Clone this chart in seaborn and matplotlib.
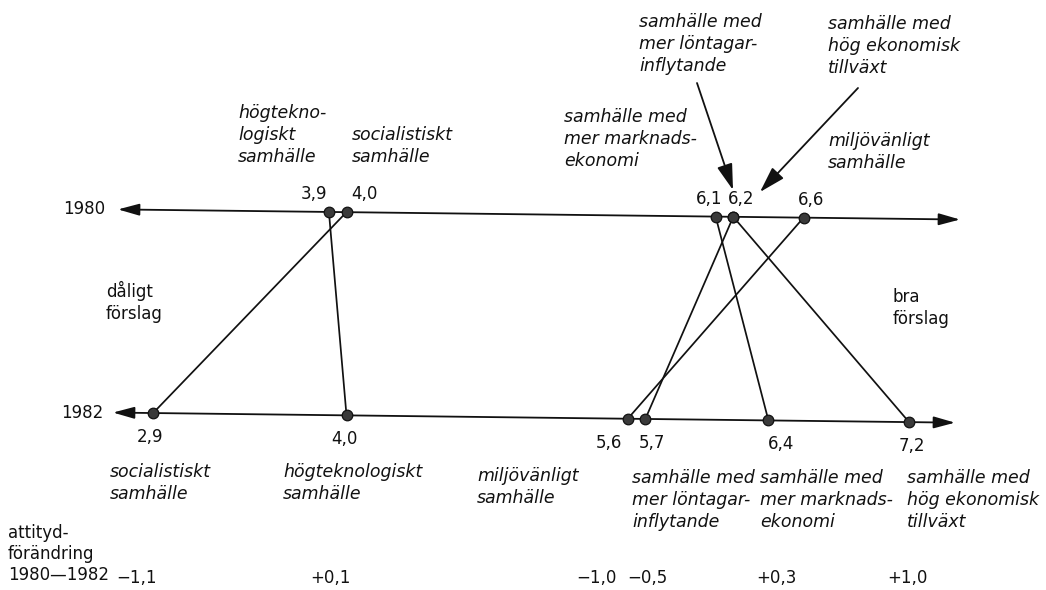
import numpy as np
import pandas as pd
import matplotlib
matplotlib.use("Agg")
import matplotlib.pyplot as plt
import seaborn as sns
from matplotlib.patches import ArrowStyle

# ---------------- data ----------------
societies = ["socialistiskt", "högteknologiskt", "miljövänligt",
             "löntagarinflytande", "marknadsekonomi", "tillväxt"]
score_1980 = [4.0, 3.9, 6.6, 6.2, 6.1, 6.2]
score_1982 = [2.9, 4.0, 5.6, 5.7, 6.4, 7.2]
change_80_82 = [-1.1, 0.1, -1.0, -0.5, 0.3, 1.0]
names_1982 = ["socialistiskt\nsamhälle", "högteknologiskt\nsamhälle",
              "miljövänligt\nsamhälle", "samhälle med\nmer löntagar-\ninflytande",
              "samhälle med\nmer marknads-\nekonomi", "samhälle med\nhög ekonomisk\ntillväxt"]
year_labels = ["1980", "1982"]

# ---------------- layout (pixels) ----------------
W, H = 1046, 590
PX_PER_UNIT = 175.8
X0 = -356.7
TILT = 0.012
ROW_BASE = {"1980": 208.0, "1982": 411.2}


def px(v):
    return X0 + PX_PER_UNIT * v


def v_of(p):
    return (p - X0) / PX_PER_UNIT


def row_y(v, year):
    return ROW_BASE[year] + TILT * px(v)


def row_y_px(p, year):
    return ROW_BASE[year] + TILT * p


sns.set_theme(style="white")
plt.rcParams["font.family"] = ["DejaVu Sans"]
INK = "#111111"

fig = plt.figure(figsize=(W / 100, H / 100), dpi=100)
ax = fig.add_axes([0, 0, 1, 1])
ax.set_xlim(v_of(0), v_of(W))
ax.set_ylim(H, 0)
ax.axis("off")

FS = 12
FS_IT = 12.5
LS_IT = 1.27
LS = 1.27

# axis lines with arrowheads
astyle = ArrowStyle("<|-|>", head_length=0.65, head_width=0.18)
for year, (lp, rp) in zip(year_labels, [(118, 960), (113, 955)]):
    ax.annotate("", xy=(v_of(rp), row_y_px(rp, year)), xytext=(v_of(lp), row_y_px(lp, year)),
                arrowprops=dict(arrowstyle=astyle, mutation_scale=20, color=INK, lw=1.3,
                                shrinkA=0, shrinkB=0))

# connectors
rows = []
for s, a, b in zip(societies, score_1980, score_1982):
    rows.append({"society": s, "x": a, "y": row_y(a, "1980"), "order": 0})
    rows.append({"society": s, "x": b, "y": row_y(b, "1982"), "order": 1})
df = pd.DataFrame(rows)
sns.lineplot(data=df, x="x", y="y", units="society", estimator=None, sort=False,
             color=INK, lw=1.25, legend=False, ax=ax)
sns.scatterplot(data=df, x="x", y="y", s=58, color="#3a3a3a", edgecolor=INK,
                linewidth=0.9, zorder=5, legend=False, ax=ax)
ax.set_xlabel("")
ax.set_ylabel("")


def fmt(v):
    return f"{v:.1f}".replace(".", ",")


def fmt_change(c):
    sign = "+" if c > 0 else "\u2212"
    return sign + f"{abs(c):.1f}".replace(".", ",")


# 1980 value labels: (value, pixel offset, ha)
lab80 = {3.9: (-2, "right"), 4.0: (5, "left"), 6.1: (7, "right"), 6.2: (-5, "left"), 6.6: (7, "center")}
for v in sorted(set(score_1980)):
    off, ha = lab80[v]
    ax.text(v_of(px(v) + off), row_y(v, "1980") - 18, fmt(v), ha=ha, va="center",
            fontsize=FS, color=INK)

# 1982 value labels
lab82 = [-3, -2, -19, 7, 13, 3]
for v, off in zip(score_1982, lab82):
    ax.text(v_of(px(v) + off), row_y(v, "1982") + 24, fmt(v), ha="center", va="center",
            fontsize=FS, color=INK)

# 1982 italic names
name_x = [110, 283, 477, 632, 760, 907]
name_y = [472, 472, 476, 478, 478, 478]
for n, x, y in zip(names_1982, name_x, name_y):
    ax.text(v_of(x), y - 9, n, ha="left", va="top", fontsize=FS_IT, style="italic",
            color=INK, linespacing=LS_IT)

# change values
chg_x = [137, 330, 596, 647, 776, 907]
for c, x in zip(change_80_82, chg_x):
    ax.text(v_of(x), 578, fmt_change(c), ha="center", va="center", fontsize=FS, color=INK)

ax.text(v_of(8), 533 - 9, "attityd-\nförändring\n1980\u20141982", ha="left", va="top",
        fontsize=FS, color=INK, linespacing=1.2)

# 1980 italic names (top)
top_names = [("högtekno-\nlogiskt\nsamhälle", 238, 113),
             ("socialistiskt\nsamhälle", 352, 135),
             ("samhälle med\nmer marknads-\nekonomi", 564, 117),
             ("samhälle med\nmer löntagar-\ninflytande", 639, 22),
             ("samhälle med\nhög ekonomisk\ntillväxt", 828, 24),
             ("miljövänligt\nsamhälle", 828, 141)]
for n, x, y in top_names:
    ax.text(v_of(x), y - 9, n, ha="left", va="top", fontsize=FS_IT, style="italic",
            color=INK, linespacing=LS_IT)

# pointer arrows
pstyle = ArrowStyle("-|>", head_length=0.8, head_width=0.24)
for (x1, y1), (x2, y2) in [((697, 83), (733, 190)), ((858, 88), (760, 192))]:
    ax.annotate("", xy=(v_of(x2), y2), xytext=(v_of(x1), y1),
                arrowprops=dict(arrowstyle=pstyle, mutation_scale=20, color=INK, lw=1.3,
                                shrinkA=0, shrinkB=0))

# year labels and side labels
ax.text(v_of(105), 209, "1980", ha="right", va="center", fontsize=FS, color=INK)
ax.text(v_of(103), 413, "1982", ha="right", va="center", fontsize=FS, color=INK)
ax.text(v_of(106), 290 - 9, "dåligt\nförslag", ha="left", va="top", fontsize=FS,
        color=INK, linespacing=LS)
ax.text(v_of(893), 297 - 9, "bra\nförslag", ha="left", va="top", fontsize=FS,
        color=INK, linespacing=LS)

fig.savefig("out.png", dpi=100)
